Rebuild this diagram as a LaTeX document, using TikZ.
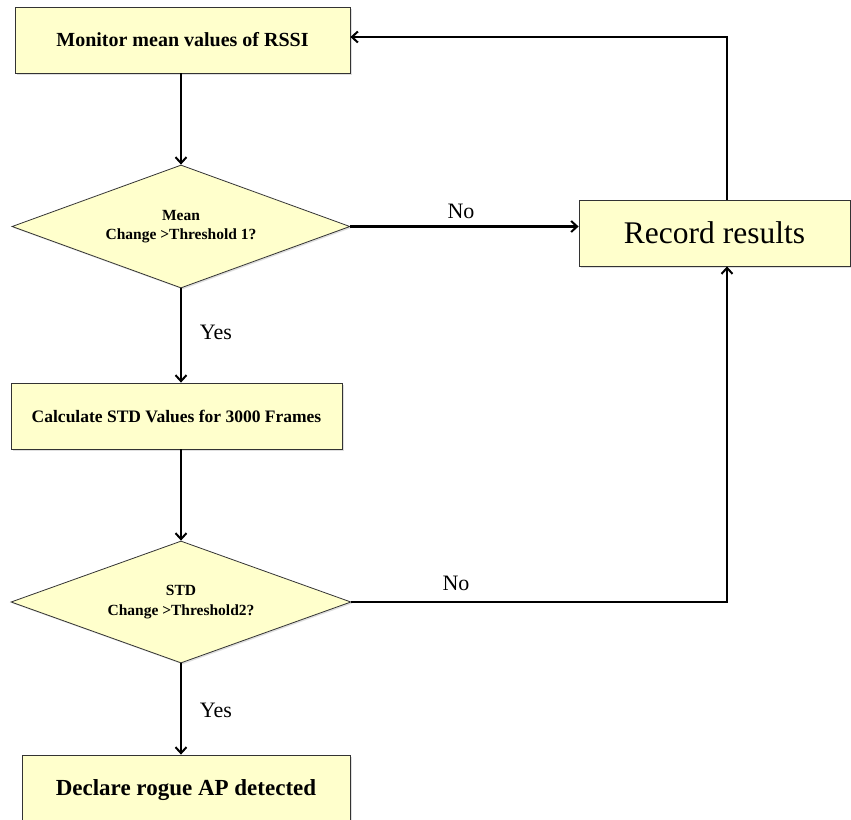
\documentclass[tikz,border=0pt]{standalone}
\usepackage{fontspec}
\setmainfont{Liberation Serif}
\usetikzlibrary{shapes.geometric,arrows.meta,shadows}
\definecolor{boxfill}{HTML}{FFFFCC}
\definecolor{boxline}{HTML}{333333}
\tikzset{
  procbox/.style={draw=boxline, line width=0.8pt, fill=boxfill, rectangle, inner sep=0pt,
    align=center, font=\bfseries, drop shadow={opacity=0.25, shadow xshift=1.5pt, shadow yshift=-1.5pt}},
  decision/.style={draw=boxline, line width=0.8pt, fill=boxfill, diamond, inner sep=0pt,
    shape aspect=2.75, align=center, font=\bfseries\fontsize{15.5}{19.5}\selectfont,
    drop shadow={opacity=0.25, shadow xshift=1.5pt, shadow yshift=-1.5pt}},
  flow/.style={line width=2.2pt, -{Straight Barb[length=6pt, width=11pt, line width=2pt]},
    line cap=butt, line join=miter},
  lbl/.style={font=\fontsize{22}{24}\selectfont, inner sep=0pt}
}
\begin{document}
\begin{tikzpicture}[x=1pt,y=-1pt]
\useasboundingbox (0,0) rectangle (851,819);
\clip (0,0) rectangle (851,819);

\node[procbox, minimum width=335pt, minimum height=66pt, font=\bfseries\fontsize{20}{22}\selectfont] (mon) at (182.5,40) {Monitor mean values of RSSI};
\node[decision, minimum width=338pt, minimum height=123pt] (d1) at (181,226.5) {Mean\\Change >Threshold 1?};
\node[procbox, minimum width=271pt, minimum height=66pt, font=\fontsize{31.5}{34}\selectfont] (rec) at (714.5,233) {Record results};
\node[procbox, minimum width=331pt, minimum height=66pt, font=\bfseries\fontsize{17.5}{20}\selectfont] (calc) at (176.5,416) {Calculate STD Values for 3000 Frames};
\node[decision, minimum width=340pt, minimum height=122pt] (d2) at (181,602) {STD\\Change >Threshold2?};
\node[procbox, minimum width=328pt, minimum height=90pt] (dec) at (186,800) {};
\node[font=\bfseries\fontsize{23}{25}\selectfont, inner sep=0pt] (dectext) at (186,790) {Declare rogue AP detected};

\coordinate (rtop) at (727,37);
\coordinate (rbot) at (727,602);

\draw[flow] (mon.south -| d1.north) -- (d1.north);
\draw[flow] (d1.south) -- (calc.north -| d1.south);
\draw[flow] (calc.south -| d2.north) -- (d2.north);
\draw[flow] (d2.south) -- (dec.north -| d2.south);
\draw[flow] (d1.east) -- (d1.east -| rec.west);
\draw[flow] (d2.east) -- (rbot) -- (rbot |- rec.south);
\draw[flow] (rtop |- rec.north) -- (rtop) -- (rtop -| mon.east);

\node[lbl] (no1) at (461,211) {No};
\node[lbl] (no2) at (456,583) {No};
\node[lbl] (yes1) at (216,332) {Yes};
\node[lbl] (yes2) at (216,710) {Yes};
\end{tikzpicture}
\end{document}
